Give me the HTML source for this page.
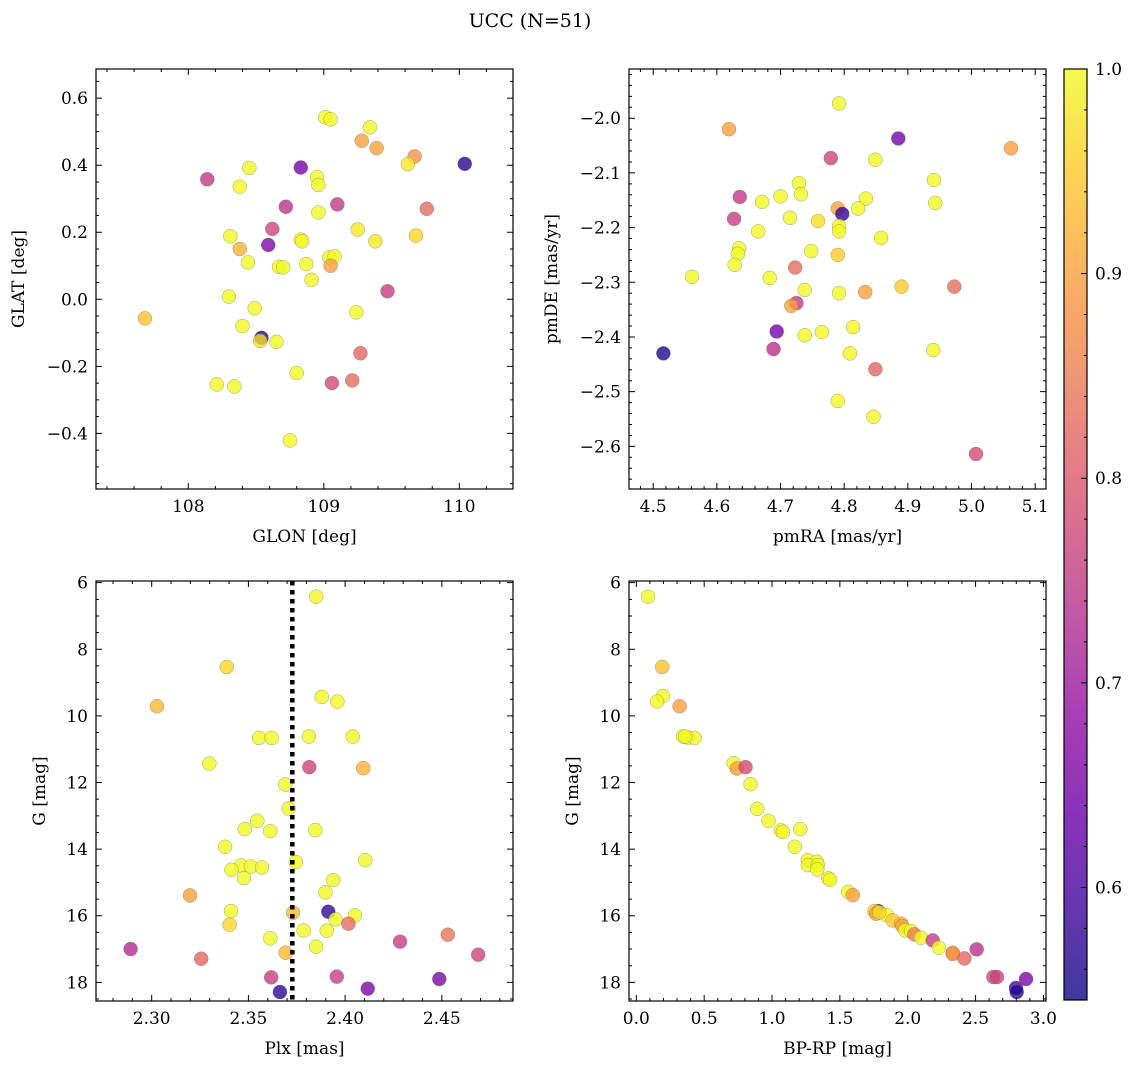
<!DOCTYPE html>
<html><head><meta charset="utf-8"><style>
html,body{margin:0;padding:0;background:#fff}
svg{display:block;font-family:"DejaVu Serif","Liberation Serif",serif}
</style></head><body>
<svg id="chart" width="1136" height="1068" viewBox="0 0 1136 1068" xmlns="http://www.w3.org/2000/svg">
<rect width="1136" height="1068" fill="#fff"/>
<text x="530" y="27" font-size="19" text-anchor="middle">UCC (N=51)</text>
</svg>
<script>
// ---------- data ----------
const p1x=[109.01,109.05,109.34,109.28,109.39,109.67,109.62,110.04,108.83,108.45,108.14,108.95,108.96,108.38,108.72,109.10,109.76,108.96,108.62,108.31,109.25,109.68,108.83,108.84,109.38,108.59,108.38,108.44,109.04,109.08,109.05,108.67,108.70,108.87,108.91,109.47,108.30,107.68,108.49,109.24,108.40,108.54,108.53,108.65,109.27,108.80,109.06,109.21,108.21,108.34,108.75];
const p1y=[0.543,0.537,0.513,0.473,0.451,0.426,0.403,0.404,0.393,0.392,0.358,0.364,0.341,0.336,0.276,0.283,0.270,0.259,0.21,0.188,0.208,0.19,0.178,0.173,0.173,0.162,0.15,0.11,0.125,0.128,0.1,0.097,0.095,0.105,0.058,0.024,0.008,-0.057,-0.027,-0.039,-0.08,-0.115,-0.124,-0.127,-0.161,-0.22,-0.25,-0.242,-0.254,-0.26,-0.421];
const p1c=[1,1,1,0.9,0.9,0.88,0.98,0.57,0.65,1,0.75,1,1,1,0.74,0.75,0.83,1,0.77,1,0.98,0.96,1,1,0.98,0.66,0.92,1,1,1,0.9,1,1,1,1,0.76,1,0.94,1,1,1,0.56,0.97,1,0.82,1,0.78,0.83,1,1,1];

const p2x=[4.792,4.619,4.885,5.062,4.779,4.849,4.941,4.729,4.732,4.636,4.834,4.700,4.671,4.943,4.790,4.797,4.822,4.627,4.715,4.759,4.792,4.792,4.665,4.858,4.635,4.633,4.748,4.790,4.628,4.723,4.561,4.683,4.890,4.973,4.738,4.792,4.833,4.725,4.717,4.694,4.738,4.765,4.814,4.516,4.689,4.809,4.940,4.849,4.790,4.846,5.007];
const p2y=[-1.973,-2.020,-2.037,-2.055,-2.073,-2.076,-2.113,-2.119,-2.139,-2.144,-2.147,-2.143,-2.153,-2.155,-2.165,-2.175,-2.165,-2.184,-2.182,-2.188,-2.197,-2.207,-2.207,-2.219,-2.238,-2.248,-2.243,-2.25,-2.268,-2.273,-2.290,-2.292,-2.308,-2.308,-2.314,-2.32,-2.318,-2.338,-2.343,-2.39,-2.397,-2.391,-2.382,-2.430,-2.422,-2.430,-2.424,-2.459,-2.517,-2.546,-2.614];
const p2c=[1,0.9,0.65,0.9,0.77,1,1,1,1,0.75,1,1,1,1,0.9,0.58,1,0.76,1,0.97,1,1,1,1,1,1,1,0.95,1,0.83,1,1,0.95,0.83,1,1,0.9,0.75,0.9,0.65,1,1,1,0.56,0.74,1,1,0.82,1,1,0.78];

const p3x=[2.3851,2.3388,2.3027,2.3879,2.3960,2.3555,2.3620,2.3813,2.4039,2.3298,2.3815,2.4094,2.3691,2.3708,2.3546,2.3481,2.3613,2.3846,2.3379,2.3745,2.4104,2.3462,2.3513,2.3570,2.3412,2.3477,2.3939,2.3898,2.3198,2.3410,2.3731,2.3913,2.3951,2.4051,2.4017,2.3403,2.3786,2.3905,2.3613,2.4531,2.4284,2.3850,2.3693,2.2891,2.3256,2.4688,2.3618,2.3957,2.4487,2.4117,2.3663];
const p3y=[6.42,8.53,9.71,9.43,9.57,10.66,10.66,10.62,10.62,11.43,11.54,11.57,12.06,12.78,13.15,13.40,13.46,13.43,13.93,14.39,14.33,14.49,14.52,14.55,14.62,14.87,14.93,15.30,15.39,15.86,15.91,15.88,16.11,15.99,16.24,16.27,16.44,16.45,16.68,16.57,16.78,16.93,17.11,17.00,17.29,17.17,17.85,17.83,17.90,18.19,18.29];
const p3c=[1,0.96,0.93,1,1,1,1,1,1,1,0.77,0.92,1,1,1,1,1,1,1,1,1,1,1,1,1,1,1,1,0.9,1,0.93,0.58,1,1,0.83,0.96,1,1,1,0.84,0.76,1,0.93,0.73,0.82,0.77,0.76,0.76,0.66,0.66,0.57];
const plxLine=2.3727;

const p4x=[0.086,0.191,0.196,0.152,0.319,0.343,0.380,0.429,0.36,0.717,0.741,0.805,0.842,0.891,0.974,1.065,1.08,1.208,1.168,1.264,1.330,1.264,1.338,1.333,1.416,1.428,1.561,1.595,1.782,1.755,1.767,1.845,1.889,1.951,1.96,1.981,2.025,2.049,2.099,2.184,2.229,2.332,2.332,2.418,2.508,2.631,2.658,2.798,2.803,2.872,1.79];
const p4y=[6.42,8.53,9.40,9.57,9.71,10.62,10.65,10.66,10.62,11.42,11.58,11.54,12.05,12.79,13.15,13.44,13.48,13.40,13.93,14.33,14.38,14.48,14.48,14.61,14.88,14.92,15.28,15.38,15.86,15.86,15.94,15.98,16.14,16.24,16.31,16.44,16.46,16.56,16.66,16.74,16.96,17.11,17.15,17.28,17.01,17.84,17.84,18.17,18.29,17.90,15.9];
const p4c=[1,0.94,1,1,0.9,1,1,1,1,1,0.9,0.78,1,1,1,1,1,1,1,1,1,1,1,1,1,1,1,0.9,0.58,0.96,0.9,1,0.95,0.92,0.9,1,1,0.85,1,0.76,1,0.9,0.88,0.82,0.74,0.77,0.77,0.6,0.56,0.66,0.97];

const p1xTicks=[108,109,110], p1yTicks=[-0.4,-0.2,0.0,0.2,0.4,0.6];
const p2xTicks=[4.5,4.6,4.7,4.8,4.9,5.0,5.1], p2yTicks=[-2.6,-2.5,-2.4,-2.3,-2.2,-2.1,-2.0];
const p3xTicks=[2.30,2.35,2.40,2.45], gTicks=[6,8,10,12,14,16,18];
const p4xTicks=[0.0,0.5,1.0,1.5,2.0,2.5,3.0];
const cbTicks=[0.6,0.7,0.8,0.9,1.0];
const cMin=0.545, cMax=1.0;

// ---------- helpers ----------
const NS='http://www.w3.org/2000/svg';
const svg=document.getElementById('chart');
function mk(tag,attrs,parent){const e=document.createElementNS(NS,tag);for(const k in attrs)e.setAttribute(k,attrs[k]);(parent||svg).appendChild(e);return e;}
const stops=[[13,8,135],[65,4,157],[106,0,168],[143,13,164],[177,42,144],[204,71,120],[225,100,98],[242,132,75],[252,166,54],[252,206,37],[240,249,33]];
function plasma(t){t=Math.max(0,Math.min(1,t));const f=t*10,i=Math.min(9,Math.floor(f)),r=f-i;const a=stops[i],b=stops[i+1];return 'rgb('+a.map((v,k)=>Math.round(v+(b[k]-v)*r)).join(',')+')';}
function fmt(v,d){return v.toFixed(d).replace('-','\u2212');}

function panel(o){
  const g=mk('g',{});
  
  
  const sx=v=>o.L+(v-o.xd[0])/(o.xd[1]-o.xd[0])*(o.R-o.L);
  const sy=v=>o.B-(v-o.yd[0])/(o.yd[1]-o.yd[0])*(o.B-o.T);
  const pg=mk('g',{},g);
  
  
  for(let i=0;i<o.xs.length;i++){
    const c=mk('circle',{cx:sx(o.xs[i]),cy:sy(o.ys[i]),r:7,fill:plasma((o.cs[i]-cMin)/(cMax-cMin)),'fill-opacity':0.8,stroke:'#666','stroke-width':0.5,'stroke-opacity':0.6},pg);
    
    
  }
  if(o.vline!==undefined){
    const l=mk('line',{x1:sx(o.vline),x2:sx(o.vline),y1:o.T,y2:o.B,stroke:'#000','stroke-width':4.5,'stroke-dasharray':'4.5,4.5'},g);
    
    
  }
  const fr=mk('rect',{x:o.L,y:o.T,width:o.R-o.L,height:o.B-o.T,fill:'none',stroke:'#000','stroke-width':1.2},g);
  
  
  let d='';
  const lo=Math.min(o.xd[0],o.xd[1]),hi=Math.max(o.xd[0],o.xd[1]);
  for(let v=Math.ceil(lo/o.xm-1e-6)*o.xm;v<=hi+1e-9;v+=o.xm){const x=sx(v);d+=`M${x},${o.B}v-3M${x},${o.T}v3`;}
  o.xt.forEach(v=>{const x=sx(v);d+=`M${x},${o.B}v-6M${x},${o.T}v6`;});
  const ylo=Math.min(o.yd[0],o.yd[1]),yhi=Math.max(o.yd[0],o.yd[1]);
  for(let v=Math.ceil(ylo/o.ym-1e-6)*o.ym;v<=yhi+1e-9;v+=o.ym){const y=sy(v);d+=`M${o.L},${y}h3M${o.R},${y}h-3`;}
  o.yt.forEach(v=>{const y=sy(v);d+=`M${o.L},${y}h6M${o.R},${y}h-6`;});
  const tk=mk('path',{d:d,stroke:'#000','stroke-width':1,fill:'none'},g);
  
  
  o.xt.forEach(v=>{const t=mk('text',{x:sx(v),y:o.B+23,'font-size':17,'text-anchor':'middle'},g);t.textContent=fmt(v,o.xdp);
    
    });
  o.yt.forEach(v=>{const t=mk('text',{x:o.L-8,y:sy(v)+6,'font-size':17,'text-anchor':'end'},g);t.textContent=fmt(v,o.ydp);
    
    });
  const xl=mk('text',{x:(o.L+o.R)/2,y:o.B+53,'font-size':17,'text-anchor':'middle'},g);xl.textContent=o.xlab;
  
  
  const yx=o.ylx, yy=(o.T+o.B)/2;
  const yl=mk('text',{x:yx,y:yy,'font-size':17,'text-anchor':'middle',transform:`rotate(-90 ${yx} ${yy})`},g);yl.textContent=o.ylab;
  
  
}

panel({name:'glon-glat-panel',L:96,R:513,T:69,B:489,xd:[107.319,110.396],yd:[-0.566,0.687],xs:p1x,ys:p1y,cs:p1c,xt:p1xTicks,yt:p1yTicks,xm:0.2,ym:0.05,xdp:0,ydp:1,xlab:'GLON [deg]',ylab:'GLAT [deg]',ylx:24});
panel({name:'proper-motion-panel',L:629,R:1046,T:69,B:489,xd:[4.462,5.117],yd:[-2.678,-1.910],xs:p2x,ys:p2y,cs:p2c,xt:p2xTicks,yt:p2yTicks,xm:0.02,ym:0.02,xdp:1,ydp:1,xlab:'pmRA [mas/yr]',ylab:'pmDE [mas/yr]',ylx:557});
panel({name:'plx-g-panel',L:96,R:513,T:581,B:1001,xd:[2.2712,2.4868],yd:[18.56,5.95],xs:p3x,ys:p3y,cs:p3c,xt:p3xTicks,yt:gTicks,xm:0.01,ym:0.5,xdp:2,ydp:0,xlab:'Plx [mas]',ylab:'G [mag]',ylx:45,vline:plxLine});
panel({name:'cmd-panel',L:629,R:1046,T:581,B:1001,xd:[-0.054,3.019],yd:[18.56,5.95],xs:p4x,ys:p4y,cs:p4c,xt:p4xTicks,yt:gTicks,xm:0.1,ym:0.5,xdp:1,ydp:0,xlab:'BP-RP [mag]',ylab:'G [mag]',ylx:578});

// colorbar
const cb=mk('g',{});


const defs=mk('defs',{},cb);
const lg=mk('linearGradient',{id:'pl',x1:0,y1:1,x2:0,y2:0},defs);
for(let i=0;i<=20;i++){mk('stop',{offset:i/20,'stop-color':plasma(i/20)},lg);}
const CT=69,CB=1000,CL=1064,CR=1087;
mk('rect',{x:CL,y:CT,width:CR-CL,height:CB-CT,fill:'url(#pl)','fill-opacity':0.8},cb);
mk('rect',{x:CL,y:CT,width:CR-CL,height:CB-CT,fill:'none',stroke:'#000','stroke-width':1.2},cb);
const cy=v=>CB-(v-cMin)/(cMax-cMin)*(CB-CT);
let cd='';
for(let v=0.56;v<=1.0001;v+=0.02){cd+=`M${CR},${cy(v)}h-3`;}
cbTicks.forEach(v=>{cd+=`M${CR},${cy(v)}h-6`;
  const t=mk('text',{x:CR+8,y:cy(v)+6,'font-size':17},cb);t.textContent=v.toFixed(1);
  
  });
mk('path',{d:cd,stroke:'#000','stroke-width':1},cb);
</script>
</body></html>
